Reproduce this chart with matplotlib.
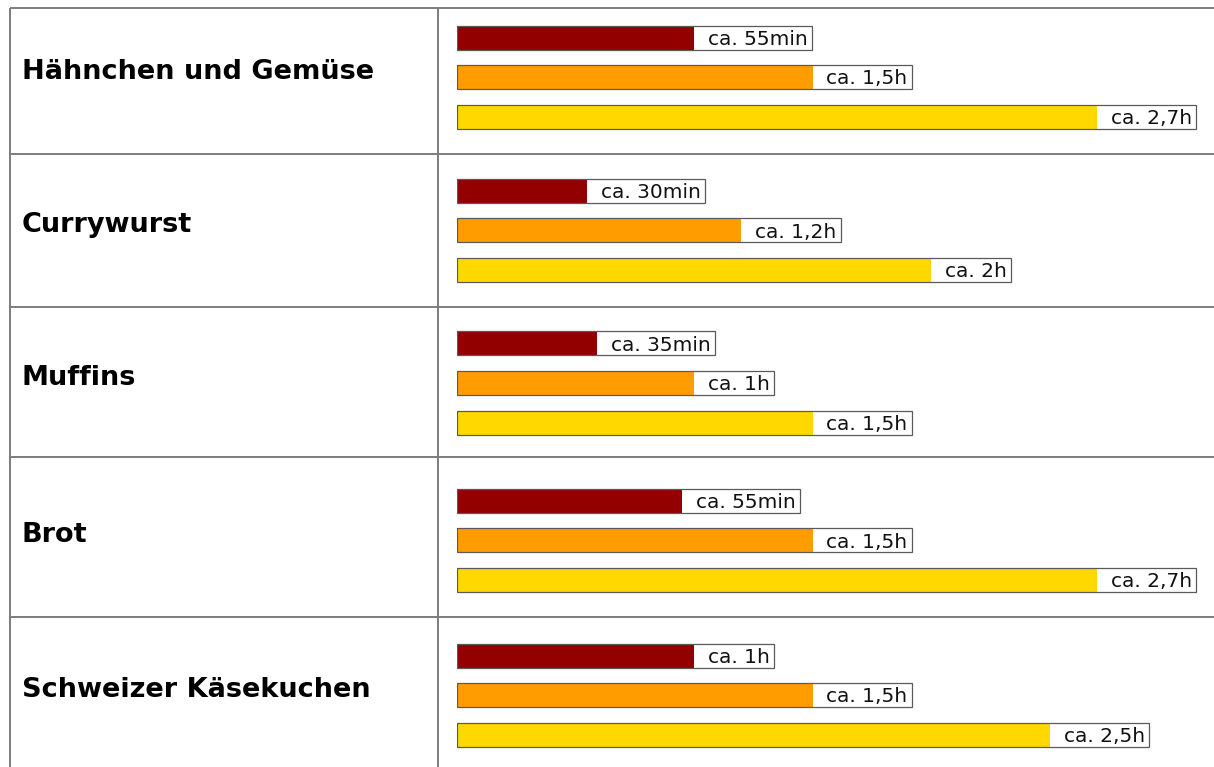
import matplotlib
matplotlib.use("Agg")
import matplotlib.pyplot as plt

# dishes and baking times (bar lengths in hours)
dishes = ["Hähnchen und Gemüse", "Currywurst", "Muffins", "Brot", "Schweizer Käsekuchen"]
hours = [
    [1.0, 1.5, 2.7],
    [0.55, 1.2, 2.0],
    [0.59, 1.0, 1.5],
    [0.95, 1.5, 2.7],
    [1.0, 1.5, 2.5],
]
labels = [
    ["ca. 55min", "ca. 1,5h", "ca. 2,7h"],
    ["ca. 30min", "ca. 1,2h", "ca. 2h"],
    ["ca. 35min", "ca. 1h", "ca. 1,5h"],
    ["ca. 55min", "ca. 1,5h", "ca. 2,7h"],
    ["ca. 1h", "ca. 1,5h", "ca. 2,5h"],
]
bar_colors = ["#930000", "#FF9C00", "#FFD800"]

W, H = 1214, 767
fig = plt.figure(figsize=(W / 100, H / 100), dpi=100)

# background axes in pixel units for the table grid and dish names
bg = fig.add_axes([0, 0, 1, 1])
bg.set_xlim(0, W)
bg.set_ylim(H, 0)
bg.axis("off")

line_kw = dict(color="#7d7d7d", lw=1.4, solid_capstyle="butt")
row_lines = [8, 154, 307, 457, 617]
for y in row_lines:
    bg.plot([10, W], [y, y], **line_kw)
bg.plot([10, 10], [8, H], **line_kw)
bg.plot([438, 438], [8, H], **line_kw)

group_mid = [77, 230, 383, 540, 695]   # centre of each bar group, px
x0 = 457          # where bars start, px
px_per_h = 237    # bar scale
step = 39.5       # distance between bars, px
bar_h = 24 / step
pad_l, pad_r = 14, 4

renderer = fig.canvas.get_renderer()

for i, dish in enumerate(dishes):
    c = group_mid[i]
    bg.text(22, c + 2, dish, fontsize=19.5, fontweight="bold",
            va="baseline", ha="left", color="black")

    ax = fig.add_axes([x0 / W, (H - c - 1.5 * step) / H, (W - x0) / W, 3 * step / H])
    ax.set_xlim(0, (W - x0) / px_per_h)
    ax.set_ylim(2.5, -0.5)
    ax.axis("off")

    for j, v in enumerate(hours[i]):
        t = ax.text(v + pad_l / px_per_h, j + 7.5 / step, labels[i][j],
                    fontsize=14.5, va="baseline", ha="left", color="#111111", zorder=4)
        w = t.get_window_extent(renderer).width / px_per_h
        box = (pad_l + pad_r) / px_per_h + w
        ax.barh(j, box, left=v, height=bar_h, color="white", zorder=1)
        ax.barh(j, v, height=bar_h, color=bar_colors[j], zorder=2)
        ax.barh(j, v + box, height=bar_h, fill=False, edgecolor="#5a5a5a",
                lw=0.9, zorder=3)

fig.savefig("out.png", dpi=100)
